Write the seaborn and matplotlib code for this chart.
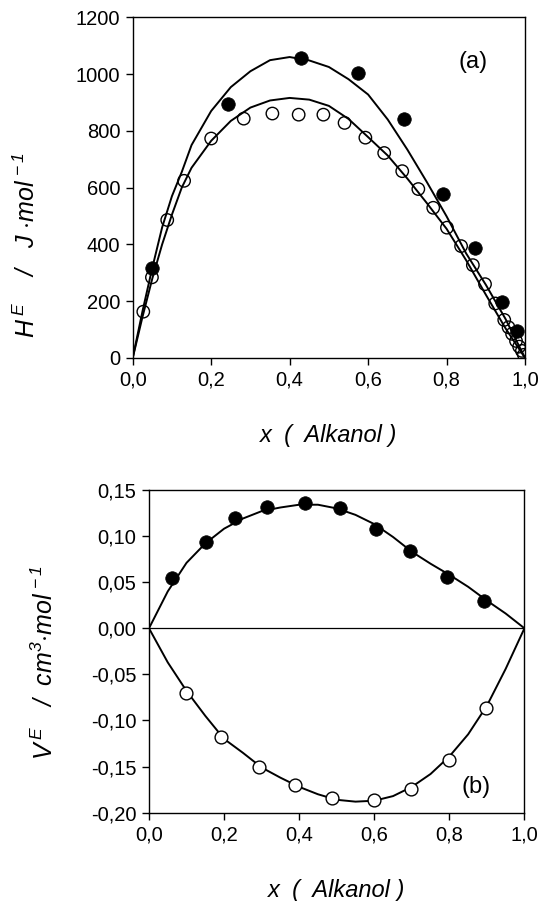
import matplotlib
matplotlib.use("Agg")
import matplotlib.pyplot as plt
import matplotlib.ticker as mticker
import seaborn as sns

sns.set_style("ticks")
plt.rcParams["font.family"] = ["Liberation Sans", "DejaVu Sans"]
plt.rcParams["mathtext.fontset"] = "custom"
plt.rcParams["mathtext.rm"] = "Liberation Sans:italic"
plt.rcParams["mathtext.it"] = "Liberation Sans:italic"
plt.rcParams["mathtext.default"] = "it"
plt.rcParams["text.color"] = "black"
plt.rcParams["axes.labelcolor"] = "black"

# (a) excess enthalpy: measured points
he_x_filled = [0.049, 0.242, 0.429, 0.573, 0.691, 0.790, 0.872, 0.940, 0.979]
he_y_filled = [316, 896, 1058, 1004, 843, 576, 386, 198, 96]
he_x_open = [0.027, 0.049, 0.088, 0.131, 0.200, 0.283, 0.356, 0.423, 0.486,
             0.540, 0.593, 0.641, 0.687, 0.728, 0.766, 0.801, 0.837, 0.867,
             0.898, 0.924, 0.947, 0.958, 0.967, 0.977, 0.985, 0.992, 0.997]
he_y_open = [163, 284, 486, 624, 773, 843, 861, 857, 857,
             828, 776, 722, 658, 595, 529, 459, 394, 327,
             260, 192, 134, 108, 85, 60, 40, 25, 11]

# (a) fitted curves
he_fit_x = [0, 0.025, 0.05, 0.075, 0.1, 0.125, 0.15, 0.2, 0.25, 0.3, 0.35, 0.4,
            0.45, 0.5, 0.55, 0.6, 0.65, 0.7, 0.75, 0.8, 0.85, 0.9, 0.95, 1.0]
he_fit_filled = [0, 165, 318, 460, 570, 655, 750, 870, 954, 1010, 1049, 1060,
                 1048, 1025, 982, 928, 840, 734, 619, 499, 368, 258, 138, 0]
he_fit_open = [0, 145, 280, 400, 505, 600, 670, 765, 835, 882, 907, 916,
               910, 888, 842, 778, 713, 632, 545, 455, 344, 223, 105, 0]

# (b) excess volume: measured points
ve_x_filled = [0.060, 0.153, 0.228, 0.313, 0.415, 0.510, 0.605, 0.694, 0.793, 0.892]
ve_y_filled = [0.055, 0.094, 0.120, 0.131, 0.136, 0.130, 0.108, 0.084, 0.056, 0.030]
ve_x_open = [0.099, 0.191, 0.292, 0.389, 0.487, 0.600, 0.697, 0.798, 0.897]
ve_y_open = [-0.070, -0.118, -0.150, -0.170, -0.184, -0.186, -0.174, -0.143, -0.086]

# (b) fitted curves
ve_fit_x = [0, 0.05, 0.1, 0.15, 0.2, 0.25, 0.3, 0.35, 0.4, 0.45, 0.5,
            0.55, 0.6, 0.65, 0.7, 0.75, 0.8, 0.85, 0.9, 0.95, 1.0]
ve_fit_pos = [0, 0.040, 0.071, 0.092, 0.108, 0.119, 0.127, 0.131, 0.134, 0.134, 0.130,
              0.123, 0.113, 0.099, 0.083, 0.070, 0.058, 0.045, 0.030, 0.016, 0]
ve_fit_neg = [0, -0.037, -0.068, -0.095, -0.120, -0.135, -0.151, -0.162, -0.172, -0.180, -0.186,
              -0.188, -0.187, -0.182, -0.172, -0.158, -0.139, -0.115, -0.084, -0.044, 0]

he_ticks = [0, 200, 400, 600, 800, 1000, 1200]
ve_ticks = [-0.20, -0.15, -0.10, -0.05, 0.00, 0.05, 0.10, 0.15]
x_ticks = [0.0, 0.2, 0.4, 0.6, 0.8, 1.0]

fig = plt.figure(figsize=(5.41, 9.01), dpi=100)
ax1 = fig.add_axes([0.2453, 0.6027, 0.7252, 0.3781])
ax2 = fig.add_axes([0.2754, 0.0980, 0.6940, 0.3582])

LW = 1.4
TICK_FS = 14.5
LABEL_FS = 17


def comma(fmt):
    return mticker.FuncFormatter(lambda v, _: format(v, fmt).replace(".", ","))


def style_axes(ax):
    for s in ax.spines.values():
        s.set_linewidth(1.0)
        s.set_color("black")
    ax.tick_params(direction="out", length=5, width=1.0, labelsize=TICK_FS,
                   colors="black", labelcolor="black", pad=4)
    ax.set_xlim(0, 1)
    ax.set_xticks(x_ticks)
    ax.xaxis.set_major_formatter(comma(".1f"))
    ax.set_xlabel("x  (  Alkanol )", fontsize=LABEL_FS, fontstyle="italic",
                  labelpad=25, color="black")


# ---- (a) ----
sns.lineplot(x=he_fit_x, y=he_fit_filled, ax=ax1, color="black", lw=LW,
             estimator=None, sort=False)
sns.lineplot(x=he_fit_x, y=he_fit_open, ax=ax1, color="black", lw=LW,
             estimator=None, sort=False)
sns.scatterplot(x=he_x_open, y=he_y_open, ax=ax1, marker="o", s=80,
                facecolor="none", edgecolor="black", linewidth=1.0, zorder=3)
sns.scatterplot(x=he_x_filled, y=he_y_filled, ax=ax1, marker="o", s=95,
                color="black", edgecolor="black", linewidth=0.5, zorder=4)
ax1.set_ylim(0, 1200)
ax1.set_yticks(he_ticks)
style_axes(ax1)
ax1.set_ylabel(r"$H^{\,E}$    /   J $\cdot$mol$^{\,-1}$", fontsize=LABEL_FS + 1,
               fontstyle="italic", color="black")
ax1.yaxis.label.set_verticalalignment("center")
ax1.yaxis.set_label_coords(-0.27, 0.33)
ax1.text(0.867, 0.869, "(a)", transform=ax1.transAxes, fontsize=17,
         ha="center", va="center", color="black")

# ---- (b) ----
ax2.axhline(0, color="black", lw=0.9, zorder=1)
sns.lineplot(x=ve_fit_x, y=ve_fit_pos, ax=ax2, color="black", lw=LW,
             estimator=None, sort=False)
sns.lineplot(x=ve_fit_x, y=ve_fit_neg, ax=ax2, color="black", lw=LW,
             estimator=None, sort=False)
sns.scatterplot(x=ve_x_open, y=ve_y_open, ax=ax2, marker="o", s=85,
                facecolor="white", edgecolor="black", linewidth=1.0, zorder=3)
sns.scatterplot(x=ve_x_filled, y=ve_y_filled, ax=ax2, marker="o", s=95,
                color="black", edgecolor="black", linewidth=0.5, zorder=4)
ax2.set_ylim(-0.20, 0.15)
ax2.set_yticks(ve_ticks)
ax2.yaxis.set_major_formatter(comma(".2f"))
style_axes(ax2)
ax2.set_ylabel(r"$V^{\,E}$   /  cm$^{3}$$\cdot$mol$^{\,-1}$", fontsize=LABEL_FS + 1,
               fontstyle="italic", color="black")
ax2.yaxis.label.set_verticalalignment("center")
ax2.yaxis.set_label_coords(-0.277, 0.467)
ax2.text(0.871, 0.081, "(b)", transform=ax2.transAxes, fontsize=17,
         ha="center", va="center", color="black")

fig.savefig("out.png", dpi=100)
